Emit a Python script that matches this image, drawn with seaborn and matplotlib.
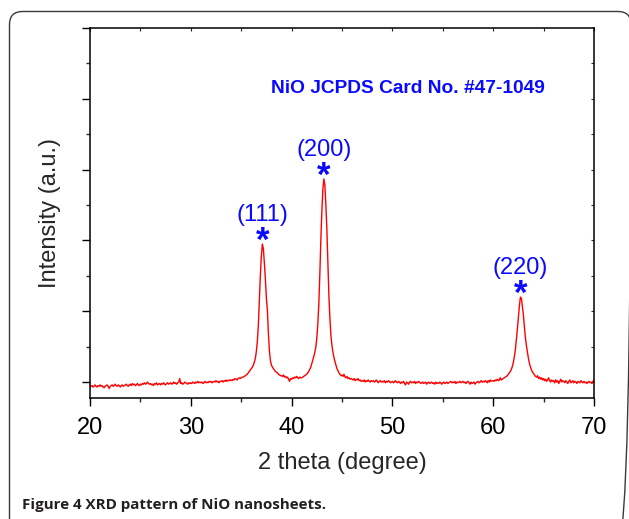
import numpy as np
import pandas as pd
import matplotlib
matplotlib.use("Agg")
import matplotlib.pyplot as plt
from matplotlib.patches import FancyBboxPatch
from matplotlib.ticker import MultipleLocator, NullFormatter
import seaborn as sns

# ---------------- data ----------------
# 2-theta sampling grid: 20.0 ... 70.0 in 0.1 degree steps
two_theta = np.round(np.linspace(20.0, 70.0, 501), 1)

# intensity (arbitrary units, baseline ~ 0, one major y tick = 100)
seg_20_30 = [-5, -6, -5, -7, -6, -4, -6, -7, -5, -6,
             -4, -6, -5, -7, -8, -6, -5, -4, -6, -9,
             -6, -5, -4, -6, -5, -3, -5, -6, -4, -5,
             -7, -5, -4, -6, -5, -4, -3, -5, -6, -4,
             -3, -5, -2, -4, -3, -5, -4, -2, -4, -5,
             -3, -4, -2, -3, -1, -3, -2, 0, -2, -3,
             -2, -4, -3, -5, -2, -3, -1, -4, -3, -2,
             -4, -2, -3, -1, -3, -4, -2, -1, -3, -2,
             -1, -3, -2, 0, -2, -1, -3, -1, 0, 5,
             -2, -1, -3, -2, 0, -1, -2, -3, -1, -2]
seg_30_36 = [-1, -2, 0, -1, -2, 0, -1, 1, -1, 0,
             -1, 0, -2, -1, 1, -1, 0, -1, 1, 0,
             1, -1, 0, 1, 0, 2, 0, 1, -1, 1,
             1, 2, 0, 2, 1, 3, 1, 2, 3, 2,
             3, 2, 4, 3, 5, 4, 3, 5, 6, 5,
             6, 7, 7, 8, 9, 10, 11, 13, 15, 17]
seg_111 = [19, 21, 24, 28, 33, 43, 57, 80, 115, 150,
           178, 195, 188, 168, 145, 118, 101, 68, 44, 30,
           24, 21, 19, 17, 15, 14, 13, 11, 10, 9]
seg_39_42 = [9, 8, 10, 7, 8, 6, 7, 4, 1, 5,
             4, 6, 5, 7, 6, 8, 6, 5, 7, 6,
             6, 7, 8, 9, 10, 11, 13, 15, 18, 21]
seg_200 = [26, 31, 36, 42, 49, 62, 82, 110, 152, 200,
           240, 272, 287, 278, 250, 215, 168, 122, 90, 66,
           52, 42, 35, 29, 24, 19, 16, 13, 11, 9]
seg_45_61 = [10, 8, 11, 7, 6, 8, 5, 6, 4, 5,
             4, 3, 5, 2, 4, 3, 5, 2, 3, 1,
             2, 1, 3, 0, 2, 1, 3, 1, 0, 2,
             1, 2, 0, 1, 3, 1, -1, 1, 2, 0,
             1, 0, 2, -1, 1, 0, 2, 1, -1, 0,
             1, -1, 0, 2, 0, -1, 1, 0, -2, 0,
             -1, 1, -2, -4, 0, -1, -3, 0, 1, -1,
             0, -1, 1, -2, 0, -1, 1, 0, -2, -1,
             0, -2, -1, 0, -3, -1, 0, -2, -1, 0,
             -2, -1, -3, 0, -2, -1, -2, 0, -1, -3,
             -1, 0, -2, -1, 0, -2, -1, 0, 1, -1,
             0, -1, 1, -2, 0, -1, 0, 1, -1, 0,
             1, -1, 0, -2, 0, 1, -1, -3, 0, -2,
             -1, 0, -3, -1, 0, 1, -1, 0, 2, 0,
             1, 0, 2, 1, -1, 2, 0, 3, 1, 2,
             2, 1, 3, 2, 4, 2, 3, 6, 3, 4]
seg_220 = [5, 6, 7, 8, 9, 11, 13, 15, 18, 22,
           28, 36, 46, 60, 75, 92, 108, 120, 118, 106,
           94, 77, 62, 51, 42, 33, 26, 21, 17, 14,
           12, 10, 8, 7, 9, 5, 7, 4, 6, 3]
seg_65_70 = [5, 2, 4, 1, 3, 6, 2, 0, 3, 1,
             2, -1, 3, 0, 2, -2, 1, 4, 0, 2,
             1, -1, 2, 0, -2, 1, 3, -1, 0, 2,
             -1, 1, 0, -2, 1, 0, -1, 2, 0, -1,
             1, -1, 0, -2, 0, 1, -1, 0, -2, 1,
             3]
intensity = (seg_20_30 + seg_30_36 + seg_111 + seg_39_42 + seg_200
             + seg_45_61 + seg_220 + seg_65_70)
assert len(intensity) == len(two_theta)

peak_labels = ["(111)", "(200)", "(220)"]
peak_pos = [37.1, 43.2, 62.7]
peak_height = [195, 287, 120]

card_text = "NiO JCPDS Card No. #47-1049"
x_label = "2 theta (degree)"
y_label = "Intensity (a.u.)"
caption = "Figure 4 XRD pattern of NiO nanosheets."
x_ticks = [20, 30, 40, 50, 60, 70]

df = pd.DataFrame({"two_theta": two_theta, "intensity": intensity})

# ---------------- figure ----------------
sns.set_style("ticks")
plt.rcParams["font.family"] = ["Liberation Sans", "DejaVu Sans"]

W, H = 629, 519
fig = plt.figure(figsize=(W / 100, H / 100), dpi=100)
fig.patch.set_facecolor("white")

# background axes in pixel units for the outer rounded frame
bg = fig.add_axes([0, 0, 1, 1], zorder=-1)
bg.set_xlim(0, W)
bg.set_ylim(H, 0)
bg.axis("off")
frame = FancyBboxPatch((9.5, 11.5), 621.5, 530,
                       boxstyle="round,pad=0,rounding_size=13",
                       facecolor="none", edgecolor="#3a3a3a", linewidth=1.0)
bg.add_patch(frame)

ax_l, ax_r, ax_b, ax_t = 90, 594, 398, 28
ax = fig.add_axes([ax_l / W, 1 - ax_b / H, (ax_r - ax_l) / W, (ax_b - ax_t) / H])

sns.lineplot(data=df, x="two_theta", y="intensity", ax=ax, color="#ff0000",
             linewidth=1.0, estimator=None, sort=False)

ax.set_xlim(20, 70)
ax.set_ylim(-22.5, 500)
ax.set_xticks(x_ticks)
ax.xaxis.set_minor_locator(MultipleLocator(5))
ax.yaxis.set_major_locator(MultipleLocator(100))
ax.yaxis.set_minor_locator(MultipleLocator(50))
ax.yaxis.set_major_formatter(NullFormatter())

for s in ax.spines.values():
    s.set_visible(True)
    s.set_linewidth(1.1)
    s.set_color("black")

ax.tick_params(axis="both", which="major", direction="out", length=5.5, width=1.0,
               labelsize=17, pad=8, colors="black", top=False, right=False)
ax.tick_params(axis="both", which="minor", direction="out", length=3, width=1.0,
               top=False, right=False)

# inward ticks on top and right
sec_x = ax.secondary_xaxis("top")
sec_x.set_xticks([20, 25, 30, 35, 40, 45, 50, 55, 60, 65, 70])
sec_x.tick_params(direction="in", length=2.5, width=0.8, labeltop=False)
sec_x.spines["top"].set_visible(False)
sec_y = ax.secondary_yaxis("right")
sec_y.set_yticks([0, 50, 100, 150, 200, 250, 300, 350, 400, 450])
sec_y.tick_params(direction="in", length=2.5, width=0.8, labelright=False)
sec_y.spines["right"].set_visible(False)

ax.set_xlabel(x_label, fontsize=17)
ax.set_ylabel(y_label, fontsize=17)
ax.xaxis.set_label_coords(0.5, -0.147)
ax.yaxis.set_label_coords(-0.057, 0.5)

blue = "#0a0aff"
ax.text(0.63, 0.836, card_text, transform=ax.transAxes, ha="center", va="center",
        fontsize=13.8, fontweight="bold", color=blue)

for lab, xp, hp in zip(peak_labels, peak_pos, peak_height):
    ax.annotate("*", xy=(xp, hp), xytext=(0, 2.0), textcoords="offset points",
                ha="center", va="center", fontsize=25, fontweight="bold", color=blue)
    ax.annotate(lab, xy=(xp, hp), xytext=(0, 21), textcoords="offset points",
                ha="center", va="center", fontsize=17, color=blue)

fig.text(22 / W, 1 - 505 / H, caption, ha="left", va="center",
         fontsize=10.9, fontweight="bold", color="#231f20",
         family=["Open Sans", "DejaVu Sans"])

fig.savefig("out.png", dpi=100)
